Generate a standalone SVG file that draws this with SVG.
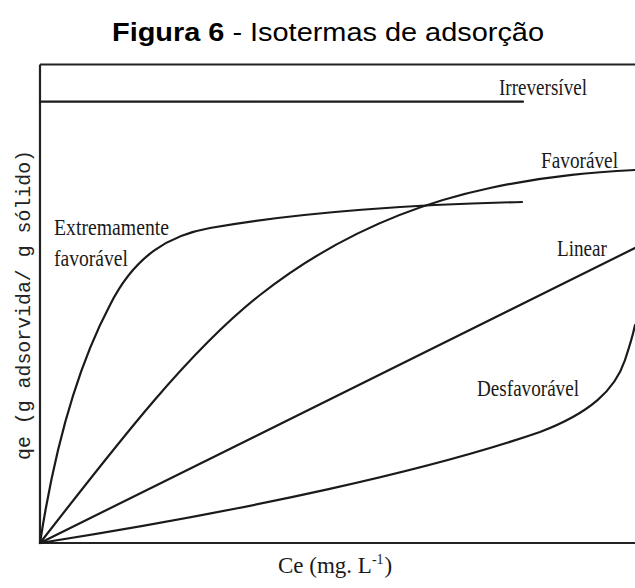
<svg xmlns="http://www.w3.org/2000/svg" width="635" height="588" viewBox="0 0 635 588">
<style>
.title{font-family:"Liberation Sans",Arial,sans-serif;font-size:25px;fill:#000}
.lbl{font-family:"Liberation Serif","Times New Roman",serif;font-size:23px;fill:#1a1a1a}
.ylab{font-family:"Liberation Mono","Courier New",monospace;font-size:20px;fill:#222}
.axis{stroke:#222;stroke-width:2.2;fill:none}
.curve{stroke:#1a1a1a;stroke-width:2.2;fill:none;stroke-linecap:round}
</style>
<rect width="635" height="588" fill="#fff"/>
<text class="title" x="112" y="41" textLength="432" lengthAdjust="spacingAndGlyphs"><tspan font-weight="bold">Figura 6</tspan> - Isotermas de adsorção</text>
<g id="axes">
<path class="axis" d="M40,64.5 H635 M40,64.5 V543 H635"/>
</g>
<g id="connectors">
<path id="irreversivel" class="curve" d="M40,101.7 H523"/>
<path id="extremamente-favoravel" class="curve" d="M40,543 C52,465 73,375 110,305 C135,255 170,235 210,228 C300,212 420,204 522,202"/>
<path id="favoravel" class="curve" d="M40,543 C120,440 190,350 260,295 C330,240 410,205 490,188 C550,175 600,172 635,170"/>
<path id="linear" class="curve" d="M40,543 L635,248"/>
<path id="desfavoravel" class="curve" d="M40,543 C250,510 430,470 540,432 C590,413 615,390 625,360 C630,345 633,335 635,325"/>
</g>
<g id="labels">
<text class="lbl" x="499" y="95" textLength="88" lengthAdjust="spacingAndGlyphs">Irreversível</text>
<text class="lbl" x="541" y="168" textLength="77" lengthAdjust="spacingAndGlyphs">Favorável</text>
<text class="lbl" x="54" y="235" textLength="115" lengthAdjust="spacingAndGlyphs">Extremamente</text>
<text class="lbl" x="54" y="266" textLength="74" lengthAdjust="spacingAndGlyphs">favorável</text>
<text class="lbl" x="557" y="256" textLength="50" lengthAdjust="spacingAndGlyphs">Linear</text>
<text class="lbl" x="477" y="396" textLength="102" lengthAdjust="spacingAndGlyphs">Desfavorável</text>
<text class="lbl" x="278" y="573">Ce (mg. L<tspan dy="-9" font-size="14">-1</tspan><tspan dy="9" dx="1">)</tspan></text>
<text class="ylab" transform="translate(30,305) rotate(-90)" text-anchor="middle" textLength="310" lengthAdjust="spacingAndGlyphs">qe (g adsorvida/ g sólido)</text>
</g>
</svg>
